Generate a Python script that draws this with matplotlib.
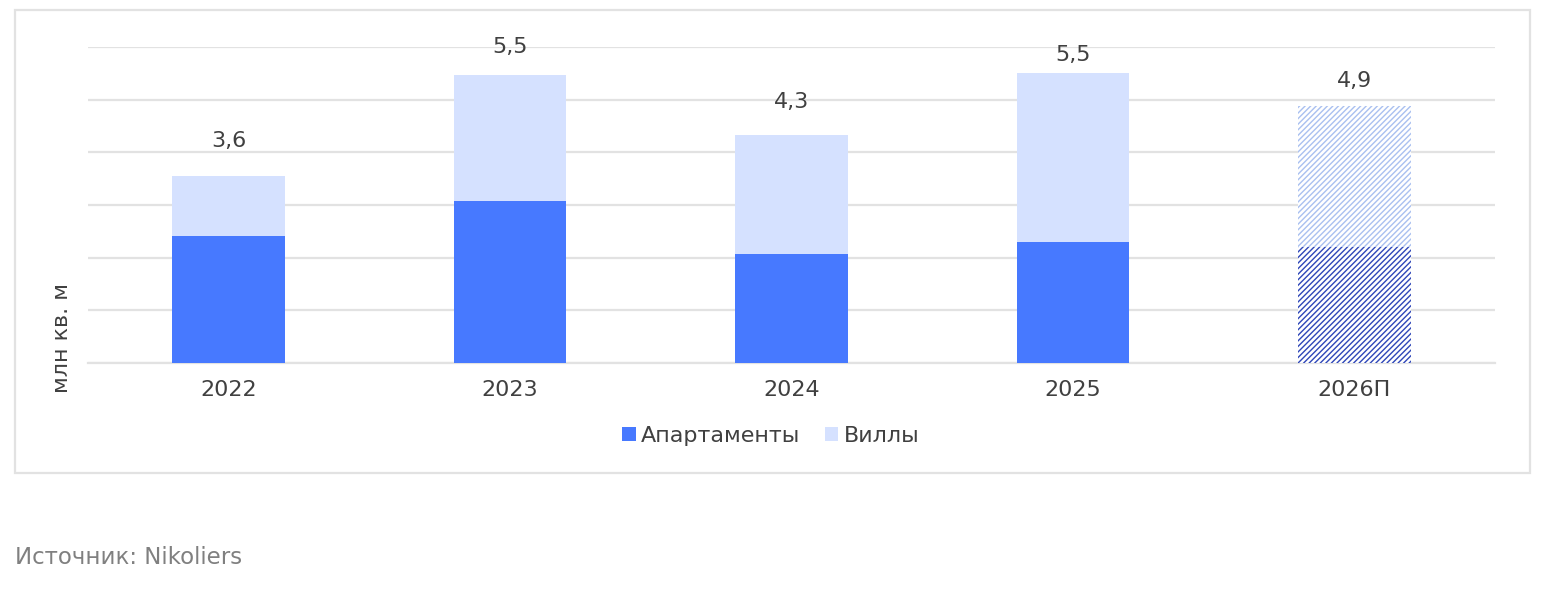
import matplotlib
matplotlib.use("Agg")
import matplotlib.pyplot as plt
from matplotlib.patches import Rectangle, Patch

plt.rcParams['font.family'] = ['DejaVu Sans']
plt.rcParams['hatch.linewidth'] = 1.0

years = ["2022", "2023", "2024", "2025", "2026П"]
apartments = [2.41, 3.07, 2.07, 2.30, 2.20]
villas = [1.14, 2.40, 2.26, 3.20, 2.68]
total_labels = ["3,6", "5,5", "4,3", "5,5", "4,9"]
forecast = [False, False, False, False, True]
# label offsets above bar tops (points), as placed in the original
label_offsets = [25.2, 20.2, 23.8, 13.0, 18.0]

C_APT = "#4779FF"
C_VIL = "#D5E1FF"
C_APT_H = "#2E46B8"
C_VIL_H = "#A9C0F0"
TXT = "#404040"
GRID = "#E2E2E2"
FS = 16

W, H = 1545, 589
fig = plt.figure(figsize=(W / 100, H / 100), dpi=100)
ax = fig.add_axes([88 / W, 1 - 363 / H, (1495 - 88) / W, (363 - 47) / H])

x = list(range(len(years)))
for i in x:
    if forecast[i]:
        ax.bar(i, apartments[i], width=0.4, facecolor="white", edgecolor=C_APT_H,
               hatch="//////", linewidth=0, zorder=3)
        ax.bar(i, villas[i], bottom=apartments[i], width=0.4, facecolor="white",
               edgecolor=C_VIL_H, hatch="//////", linewidth=0, zorder=3)
    else:
        ax.bar(i, apartments[i], width=0.4, color=C_APT, linewidth=0, zorder=3)
        ax.bar(i, villas[i], bottom=apartments[i], width=0.4, color=C_VIL, linewidth=0, zorder=3)
    ax.annotate(total_labels[i], (i, apartments[i] + villas[i]), xytext=(0, label_offsets[i]),
                textcoords="offset points", ha="center", va="center",
                fontsize=FS, color=TXT, annotation_clip=False, zorder=4)

ax.set_xlim(-0.5, len(years) - 0.5)
ax.set_ylim(0, 6)
ax.set_yticks([0, 1, 2, 3, 4, 5, 6])
ax.yaxis.grid(True, color=GRID, linewidth=1.6, zorder=0)
ax.set_yticklabels([])
ax.tick_params(axis="y", length=0)
ax.tick_params(axis="x", length=0, pad=12, labelsize=FS, labelcolor=TXT)
ax.set_xticks(x)
ax.set_xticklabels(years)
for s in ["top", "right", "left"]:
    ax.spines[s].set_visible(False)
ax.spines["bottom"].set_color(GRID)
ax.spines["bottom"].set_linewidth(1.6)
ax.spines["bottom"].set_zorder(1)

fig.text(62 / W, 1 - 338 / H, "млн кв. м", rotation=90, ha="center", va="center",
         fontsize=FS, color=TXT)

handles = [Patch(facecolor=C_APT, label="Апартаменты"), Patch(facecolor=C_VIL, label="Виллы")]
fig.legend(handles=handles, loc="center", bbox_to_anchor=(771 / W, 1 - 436 / H), ncol=2,
           frameon=False, fontsize=FS, labelcolor=TXT, handlelength=0.6, handleheight=0.6,
           handletextpad=0.25, columnspacing=1.1)

fig.patches.append(Rectangle((15 / W, 1 - 473 / H), (1530 - 15) / W, (473 - 10) / H,
                             transform=fig.transFigure, fill=False, edgecolor=GRID,
                             linewidth=1.6))

fig.text(15 / W, 1 - 557 / H, "Источник: Nikoliers", ha="left", va="center",
         fontsize=16.5, color="#808080")

fig.savefig("out.png", dpi=100, facecolor="white")
